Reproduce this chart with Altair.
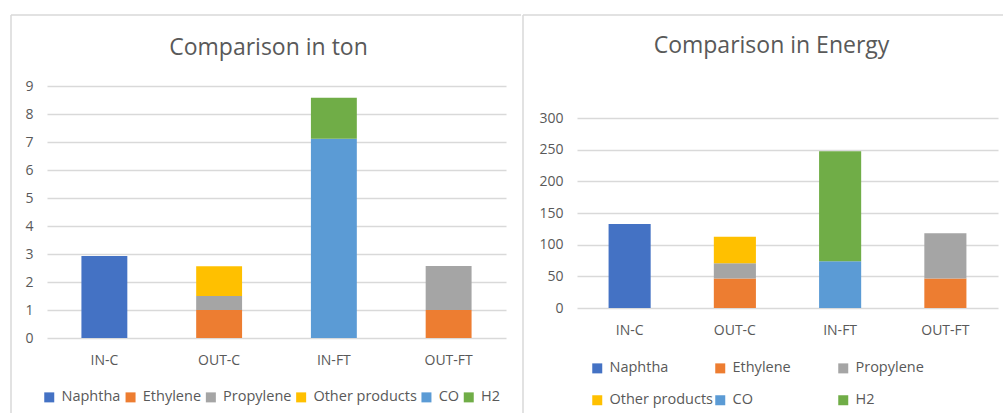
import altair as alt
import pandas as pd

# ---- data ----
categories = ["IN-C", "OUT-C", "IN-FT", "OUT-FT"]
products = ["Naphtha", "Ethylene", "Propylene", "Other products", "CO", "H2"]
colors = ["#4472C4", "#ED7D31", "#A5A5A5", "#FFC000", "#5B9BD5", "#70AD47"]

# Comparison in ton (per category)
naphtha_ton = [2.93, 0, 0, 0]
ethylene_ton = [0, 1.0, 0, 1.0]
propylene_ton = [0, 0.5, 0, 1.57]
other_ton = [0, 1.06, 0, 0]
co_ton = [0, 0, 7.12, 0]
h2_ton = [0, 0, 1.46, 0]

# Comparison in Energy (per category)
naphtha_en = [132.6, 0, 0, 0]
ethylene_en = [0, 46.4, 0, 46.4]
propylene_en = [0, 24.2, 0, 71.6]
other_en = [0, 42.0, 0, 0]
co_en = [0, 0, 73.7, 0]
h2_en = [0, 0, 173.8, 0]

ton_ticks = [0, 1, 2, 3, 4, 5, 6, 7, 8, 9]
energy_ticks = [0, 50, 100, 150, 200, 250, 300]

TEXT = "#595959"
GRID = "#d9d9d9"
FONT = "Open Sans"


def long_table(series_list):
    rows = []
    for pi, (prod, vals) in enumerate(zip(products, series_list)):
        for cat, v in zip(categories, vals):
            if v:
                rows.append({"cat": cat, "product": prod, "idx": pi, "value": v})
    return pd.DataFrame(rows)


ton_df = long_table([naphtha_ton, ethylene_ton, propylene_ton, other_ton, co_ton, h2_ton])
en_df = long_table([naphtha_en, ethylene_en, propylene_en, other_en, co_en, h2_en])
one = pd.DataFrame({"k": [0]})


def panel(df, title, w, h, y_range, ymax, ticks, dx, title_offset, legend_params, border):
    bx1, bx2, by1, by2 = border
    bars = alt.Chart(df).mark_bar().encode(
        x=alt.X("cat:N", sort=categories,
                scale=alt.Scale(paddingInner=0.6, paddingOuter=0.3),
                axis=alt.Axis(title=None, labelAngle=0, ticks=False, domain=False,
                              labelPadding=15, labelFontSize=14, labelColor=TEXT,
                              labelFont=FONT, grid=False)),
        y=alt.Y("value:Q", stack="zero",
                scale=alt.Scale(domain=[0, ymax], nice=False, range=y_range),
                axis=alt.Axis(title=None, values=ticks, ticks=False, domain=False,
                              labelPadding=14, labelFontSize=14, labelColor=TEXT,
                              labelFont=FONT, gridColor=GRID, gridWidth=1.5)),
        color=alt.Color("product:N",
                        scale=alt.Scale(domain=products, range=colors),
                        legend=alt.Legend(title=None, orient="none", direction="horizontal",
                                          symbolType="square", symbolSize=100,
                                          symbolStrokeWidth=0, labelFontSize=14.5,
                                          labelColor=TEXT, labelFont=FONT, labelOffset=5,
                                          labelLimit=200,
                                          **legend_params)),
        order=alt.Order("idx:Q", sort="ascending"),
    )
    top = alt.Chart(one).mark_rule(color=GRID, strokeWidth=1.5).encode(
        x=alt.value(bx1), x2=alt.value(bx2), y=alt.value(by1), y2=alt.value(by1))
    left = alt.Chart(one).mark_rule(color=GRID, strokeWidth=1.5).encode(
        x=alt.value(bx1), x2=alt.value(bx1), y=alt.value(by1), y2=alt.value(by2))
    return alt.layer(bars, top, left).properties(
        width=w, height=h,
        title=alt.TitleParams(title, fontSize=23, font=FONT, color=TEXT,
                              fontWeight="normal", anchor="middle", frame="group",
                              dx=dx, offset=title_offset, baseline="alphabetic"),
    )


# both plot areas share the same top (y=85); the energy panel's scale starts lower
left_chart = panel(
    ton_df, "Comparison in ton", 459, 252, [252, 0], 9, ton_ticks, -8, -64,
    dict(columns=6, legendX=-5, legendY=304, columnPadding=2.3),
    (-36, 474, -71, 327),
)
right_chart = panel(
    en_df, "Comparison in Energy", 421, 222, [222, 32], 300, energy_ticks, -16, -62,
    dict(columns=3, legendX=13, legendY=275, columnPadding=0, rowPadding=17,
         gridAlign="all"),
    (-54, 426, -71, 327),
)

chart = alt.hconcat(left_chart, right_chart, spacing=0).resolve_scale(
    color="independent", y="independent", x="independent"
).resolve_legend(color="independent").properties(
    padding={"left": 10, "top": 14, "right": 0, "bottom": 0},
    background="white",
).configure_view(stroke=None)

chart.save("out.html", embed_options={"renderer": "svg", "actions": False})
